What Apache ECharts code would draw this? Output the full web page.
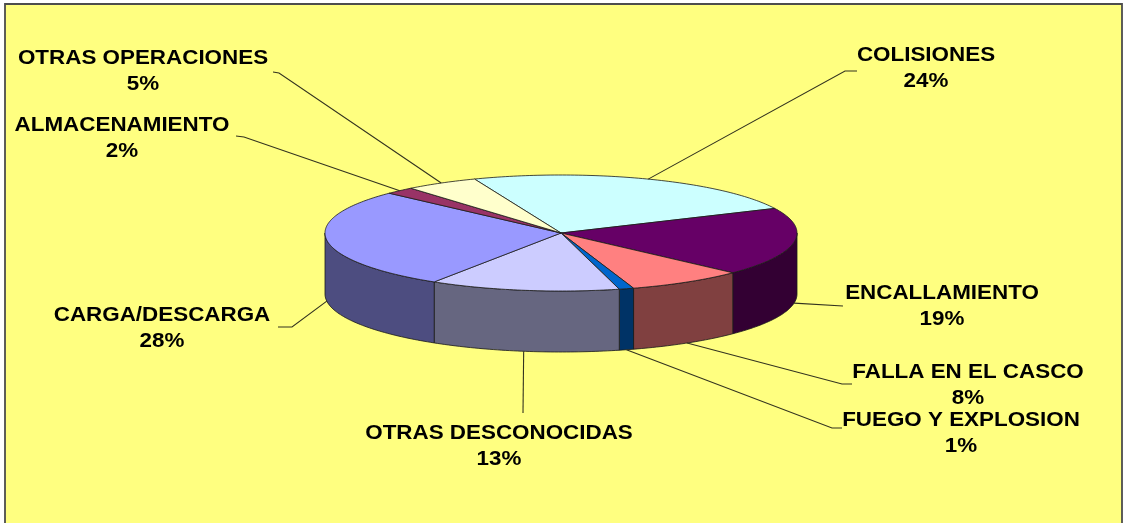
<!DOCTYPE html>
<html>
<head>
<meta charset="utf-8">
<style>
  html, body { margin: 0; padding: 0; background: #ffffff; }
  #chart { width: 1125px; height: 523px; }
</style>
<script src="https://cdn.jsdelivr.net/npm/echarts@6/dist/echarts.min.js"></script>
</head>
<body>
<div id="chart"></div>
<script>
// Causes of incidents, share of total (%)
const categories = [
  'COLISIONES',
  'ENCALLAMIENTO',
  'FALLA EN EL CASCO',
  'FUEGO Y EXPLOSION',
  'OTRAS DESCONOCIDAS',
  'CARGA/DESCARGA',
  'ALMACENAMIENTO',
  'OTRAS OPERACIONES'
];
const shares = [24, 19, 8, 1, 13, 28, 2, 5];

// Slice palette (top faces); walls use a darker shade of the same hue
const topColors = ['#CCFFFF', '#660066', '#FF8080', '#0066CC', '#CCCCFF', '#9999FF', '#993366', '#FFFFCC'];

// Label placement: centre of the first text line, and the leader path from the slice to the label
const labelCenters = [[926, 55], [942, 293], [968, 372], [961, 420], [499, 433], [162, 315], [122, 125], [143, 58]];
const leaderPaths = [
  [[845, 71], [857, 71]],
  [[843, 306]],
  [[842, 384], [852, 384]],
  [[832, 428], [842, 428]],
  [[523, 413]],
  [[292, 327], [278, 327]],
  [[244, 137], [236, 136]],
  [[279, 73], [273, 72]]
];

// Pie geometry (tilted disc)
const PIE = { cx: 561, cy: 233, rx: 236, ry: 58, depth: 61, start: -21.5 };

const startAngles = [];
shares.reduce((acc, v) => { startAngles.push(acc); return acc + v * 3.6; }, PIE.start);

function darker(hex, k) {
  const n = parseInt(hex.slice(1), 16);
  const r = Math.round(((n >> 16) & 255) * k);
  const g = Math.round(((n >> 8) & 255) * k);
  const b = Math.round((n & 255) * k);
  return 'rgb(' + r + ',' + g + ',' + b + ')';
}

function rimPoint(deg, dy) {
  const t = deg * Math.PI / 180;
  return [PIE.cx + PIE.rx * Math.sin(t), PIE.cy - PIE.ry * Math.cos(t) + (dy || 0)];
}

function arc(a0, a1, dy) {
  const pts = [];
  const steps = Math.max(2, Math.ceil(Math.abs(a1 - a0)));
  for (let k = 0; k <= steps; k++) pts.push(rimPoint(a0 + (a1 - a0) * k / steps, dy));
  return pts;
}

function renderItem(params, api) {
  const i = params.dataIndex;
  const value = api.value(0);
  const a0 = startAngles[i];
  const a1 = a0 + value * 3.6;
  const children = [];
  const edge = { stroke: '#1a1a1a', lineWidth: 0.8, lineJoin: 'round' };

  // Front-facing wall pieces (visible where the rim faces the viewer)
  [[90, 270], [450, 630]].forEach(([f0, f1]) => {
    const s0 = Math.max(a0, f0), s1 = Math.min(a1, f1);
    if (s1 > s0) {
      const top = arc(s0, s1, 0);
      const bottom = arc(s1, s0, PIE.depth);
      children.push({
        type: 'polygon', z2: 1,
        shape: { points: top.concat(bottom) },
        style: Object.assign({ fill: darker(topColors[i], 0.5) }, edge)
      });
    }
  });

  // Top face of the slice
  children.push({
    type: 'polygon', z2: 2,
    shape: { points: [[PIE.cx, PIE.cy]].concat(arc(a0, a1, 0)) },
    style: Object.assign({ fill: topColors[i] }, edge)
  });

  // Leader line: from the rim (bottom edge for front slices) to the label
  const mid = (a0 + a1) / 2;
  const front = Math.cos(mid * Math.PI / 180) < 0;
  const anchor = rimPoint(mid, front ? PIE.depth : 0);
  children.push({
    type: 'polyline', z2: 3,
    shape: { points: [anchor].concat(leaderPaths[i]) },
    style: { stroke: '#33331f', lineWidth: 1.1, fill: null }
  });

  // Category name and percentage
  const [lx, ly] = labelCenters[i];
  const font = 'bold 20px "Liberation Sans", Arial, sans-serif';
  children.push({
    type: 'text', z2: 4, x: lx, y: ly, scaleX: 1.12,
    style: { text: categories[i], font: font, fill: '#000', align: 'center', verticalAlign: 'middle' }
  });
  children.push({
    type: 'text', z2: 4, x: lx, y: ly + 26, scaleX: 1.12,
    style: { text: value + '%', font: font, fill: '#000', align: 'center', verticalAlign: 'middle' }
  });

  return { type: 'group', children: children };
}

const chart = echarts.init(document.getElementById('chart'), null, { renderer: 'canvas' });
chart.setOption({
  backgroundColor: '#ffffff',
  animation: false,
  graphic: [{
    type: 'rect', z: -10,
    shape: { x: 5, y: 4, width: 1117, height: 530 },
    style: { fill: '#FFFF80', stroke: '#4d4d4d', lineWidth: 1.8 }
  }],
  series: [{
    type: 'custom',
    coordinateSystem: 'none',
    renderItem: renderItem,
    data: shares.map((v, i) => ({ name: categories[i], value: [v] }))
  }]
});
</script>
</body>
</html>
